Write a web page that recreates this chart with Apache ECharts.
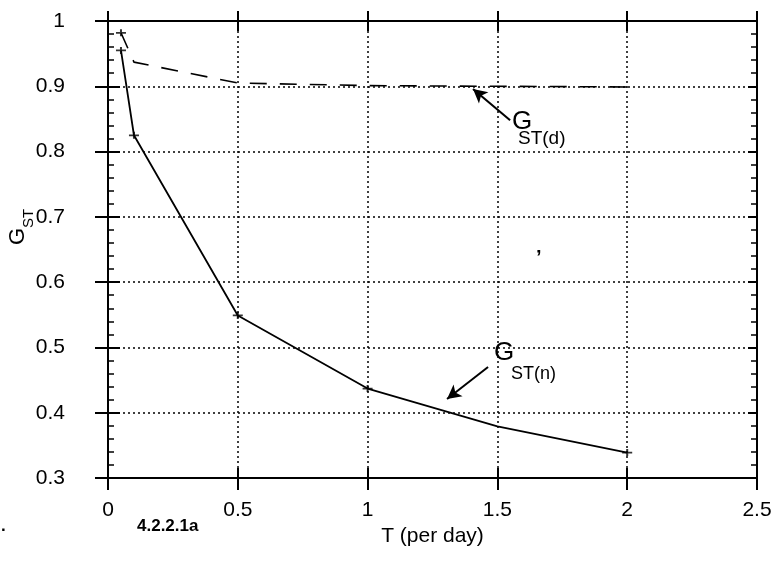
<!DOCTYPE html>
<html><head><meta charset="utf-8">
<script src="https://cdn.jsdelivr.net/npm/echarts@6/dist/echarts.min.js"></script>
<style>html,body{margin:0;padding:0;background:#fff}#c{width:781px;height:563px}</style>
</head><body><div id="c"></div>
<script>
// ---- data ----
const tValuesN = [0.05, 0.1, 0.5, 1.0, 1.5, 2.0];
const gstN     = [0.955, 0.825, 0.549, 0.437, 0.379, 0.339];
const tValuesD = [0.05, 0.1, 0.5, 1.0, 1.5, 2.0];
const gstD     = [0.982, 0.937, 0.905, 0.901, 0.900, 0.899];
const capT     = [0.05, 0.1, 0.5, 1.0, 2.0, 0.05];
const capG     = [0.955, 0.825, 0.549, 0.437, 0.339, 0.982];
const xTickLabels = ['0', '0.5', '1', '1.5', '2', '2.5'];
const yTickLabels = ['0.3', '0.4', '0.5', '0.6', '0.7', '0.8', '0.9', '1'];
const arrowD = [[1.549, 0.848], [1.406, 0.896]];
const arrowN = [[1.464, 0.470], [1.306, 0.421]];
const labelDAnchor = [1.560, 0.859];
const labelNAnchor = [1.491, 0.507];
const xName = 'T (per day)';
const figLabel = '4.2.2.1a';

const FONT = '"Liberation Sans", Arial, Helvetica, sans-serif';
const black = '#000';
const xMin = 0, xMax = 2.5, xInt = 0.5;
const yMin = 0.3, yMax = 1.0, yInt = 0.1;

function fmtX(v){ const i = Math.round((v - xMin)/xInt); return xTickLabels[i] ?? ''; }
function fmtY(v){ const i = Math.round((v - yMin)/yInt); return yTickLabels[i] ?? ''; }

const dotted = {show:true, lineStyle:{color:black, type:[2,3], width:1.5}};
const baseX = {type:'value', min:xMin, max:xMax, interval:xInt, gridIndex:0,
  splitLine:{show:false}, axisLabel:{show:false}, axisLine:{show:false}};
const baseY = {type:'value', min:yMin, max:yMax, interval:yInt, gridIndex:0,
  splitLine:{show:false}, axisLabel:{show:false}, axisLine:{show:false}};

const xAxes = [
  Object.assign({}, baseX, {position:'bottom',
    axisLine:{show:true, onZero:false, lineStyle:{color:black, width:2}},
    axisTick:{show:true, inside:false, length:12, lineStyle:{color:black, width:2}},
    axisLabel:{show:true, color:black, fontSize:21, fontFamily:FONT, margin:22, formatter:fmtX},
    splitLine:dotted,
    name:xName, nameLocation:'middle', nameGap:34,
    nameTextStyle:{color:black, fontSize:21, fontFamily:FONT}}),
  Object.assign({}, baseX, {position:'bottom',
    axisTick:{show:true, inside:true, length:10, lineStyle:{color:black, width:2}}}),
  Object.assign({}, baseX, {position:'top',
    axisLine:{show:true, onZero:false, lineStyle:{color:black, width:2}},
    axisTick:{show:true, inside:false, length:10, lineStyle:{color:black, width:2}}}),
  Object.assign({}, baseX, {position:'top',
    axisTick:{show:true, inside:true, length:10, lineStyle:{color:black, width:2}}})
];
const yAxes = [
  Object.assign({}, baseY, {position:'left',
    axisLine:{show:true, onZero:false, lineStyle:{color:black, width:2}},
    axisTick:{show:true, inside:false, length:13, lineStyle:{color:black, width:2}},
    axisLabel:{show:true, color:black, fontSize:21, fontFamily:FONT, margin:43, formatter:fmtY},
    splitLine:dotted}),
  Object.assign({}, baseY, {position:'left',
    axisTick:{show:true, inside:true, length:8, lineStyle:{color:black, width:1.5}},
    minorTick:{show:true, splitNumber:5, length:6, lineStyle:{color:black, width:1.5}}}),
  Object.assign({}, baseY, {position:'right',
    axisLine:{show:true, onZero:false, lineStyle:{color:black, width:2}},
    axisTick:{show:true, inside:true, length:9, lineStyle:{color:black, width:2}},
    minorTick:{show:true, splitNumber:5, length:6, lineStyle:{color:black, width:1.5}}}),
  Object.assign({}, baseY, {position:'right',
    axisTick:{show:true, inside:false, length:12, lineStyle:{color:black, width:2}}})
];

const chart = echarts.init(document.getElementById('c'), null, {renderer:'canvas'});
const option = {
  animation:false,
  backgroundColor:'#fff',
  grid:{left:108, right:24, top:21, bottom:85, containLabel:false, outerBoundsMode:'none'},
  xAxis:xAxes,
  yAxis:yAxes,
  series:[
    {name:'GST(n)', type:'line', xAxisIndex:0, yAxisIndex:0, symbol:'none',
      data:tValuesN.map((t,i)=>[t, gstN[i]]),
      lineStyle:{color:black, width:1.8}},
    {name:'GST(d)', type:'line', xAxisIndex:0, yAxisIndex:0, symbol:'none',
      data:tValuesD.map((t,i)=>[t, gstD[i]]),
      lineStyle:{color:black, width:1.6, type:[17,13]}},
    {name:'caps', type:'scatter', xAxisIndex:0, yAxisIndex:0,
      symbol:'path://M0,3H10V5H0Z M4,0H6V8H4Z', symbolSize:[10,7],
      itemStyle:{color:black},
      data:capT.map((t,i)=>[t, capG[i]]),
      markLine:{silent:true, animation:false, symbol:['none','arrow'], symbolSize:[11,14],
        label:{show:false},
        lineStyle:{color:black, width:2, type:'solid'},
        data:[
          [{coord:arrowD[0]}, {coord:arrowD[1]}],
          [{coord:arrowN[0]}, {coord:arrowN[1]}]
        ]}}
  ]
};
chart.setOption(option);

function px(p){ return chart.convertToPixel({gridIndex:0}, p); }
const pD = px(labelDAnchor), pN = px(labelNAnchor);
chart.setOption({graphic:[
  {type:'text', left:pD[0]-1, top:pD[1]-4, style:{text:'G', fontSize:26, fontFamily:FONT, fill:black}},
  {type:'text', left:pD[0]+5, top:pD[1]+16, style:{text:'ST(d)', fontSize:19, fontFamily:FONT, fill:black}},
  {type:'text', left:pN[0]-1, top:pN[1]-3, style:{text:'G', fontSize:26, fontFamily:FONT, fill:black}},
  {type:'text', left:pN[0]+16, top:pN[1]+22, style:{text:'ST(n)', fontSize:18, fontFamily:FONT, fill:black}},
  {type:'group', x:17.5, y:245, rotation:Math.PI/2, children:[
    {type:'text', x:0, y:0, style:{text:'G', fontSize:22, fontFamily:FONT, fill:black, align:'left', verticalAlign:'middle'}},
    {type:'text', x:17, y:11, style:{text:'ST', fontSize:15, fontFamily:FONT, fill:black, align:'left', verticalAlign:'middle'}}
  ]},
  {type:'text', left:137, top:518, style:{text:figLabel, fontSize:17, fontWeight:'bold', fontFamily:FONT, fill:black}},
  {type:'text', left:1, top:518, style:{text:'.', fontSize:17, fontWeight:'bold', fontFamily:FONT, fill:black}},
  {type:'text', left:536, top:248, style:{text:'’', fontSize:20, fontWeight:'bold', fontFamily:FONT, fill:black}}
]});
</script>
</body></html>
